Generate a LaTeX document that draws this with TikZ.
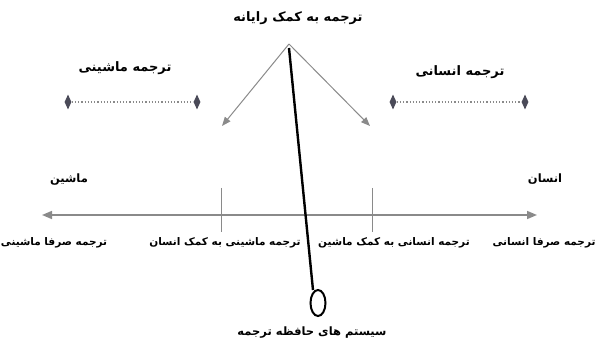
\documentclass[tikz,border=0pt]{standalone}
\usepackage{fontspec}
\usetikzlibrary{shapes.geometric,arrows.meta}
\newfontfamily\fa[Script=Arabic]{DejaVu Sans}
\TeXXeTstate=1
\definecolor{gline}{HTML}{8A8A8A}
\definecolor{dmd}{HTML}{4A4A58}
\tikzset{
  lab/.style={font=\fa\bfseries\fontsize{10.5}{12}\selectfont, inner sep=0pt},
  biglab/.style={font=\fa\bfseries\fontsize{13}{15}\selectfont, inner sep=0pt},
  midlab/.style={font=\fa\bfseries\fontsize{11.5}{14}\selectfont, inner sep=0pt},
  dmdnode/.style={diamond, fill=dmd, minimum width=7pt, minimum height=15pt, inner sep=0pt},
  dotline/.style={draw=gline, line width=1.2pt, dotted},
  greyarrow/.style={draw=gline, line width=1pt, -{Triangle[length=9pt,width=7pt]}},
  axis/.style={draw=gline, line width=1.6pt, {Triangle[length=10pt,width=8pt]}-{Triangle[length=10pt,width=8pt]}},
  tick/.style={draw=gline, line width=0.6pt},
  thick line/.style={draw=black, line width=2.4pt}
}
\begin{document}
\begin{tikzpicture}[x=1pt,y=-1pt]
\useasboundingbox (0,0) rectangle (603,347);
% titles
\node[biglab] (top) at (298,18) {\beginR ترجمه به کمک رایانه\endR};
\node[biglab] (mt) at (125,68) {\beginR ترجمه ماشینی\endR};
\node[biglab] (ht) at (460,72) {\beginR ترجمه انسانی\endR};
\node[midlab] (mach) at (69,180) {\beginR ماشین\endR};
\node[midlab] (hum) at (545,179) {\beginR انسان\endR};
% bottom labels
\node[lab] (b1) at (54,243) {\beginR ترجمه صرفا ماشینی\endR};
\node[lab] (b2) at (225,243) {\beginR ترجمه ماشینی به کمک انسان\endR};
\node[lab] (b3) at (394,243) {\beginR ترجمه انسانی به کمک ماشین\endR};
\node[lab] (b4) at (544,243) {\beginR ترجمه صرفا انسانی\endR};
\node[midlab] (tm) at (312,333) {\beginR سیستم های حافظه ترجمه\endR};
% diamonds
\node[dmdnode] (d1) at (68,102) {};
\node[dmdnode] (d2) at (197,102) {};
\node[dmdnode] (d3) at (393,102) {};
\node[dmdnode] (d4) at (525,102) {};
\draw[dotline] (d1) -- (d2);
\draw[dotline] (d3) -- (d4);
% arrows from apex
\coordinate (apex) at (289,44);
\coordinate (la) at (222,126);
\coordinate (ra) at (370,126);
\draw[greyarrow] (apex) -- (la);
\draw[greyarrow] (apex) -- (ra);
% axis
\coordinate (axl) at (42,215);
\coordinate (axr) at (537,215);
\draw[axis] (axl) -- (axr);
\coordinate (t1a) at (221,188);
\coordinate (t1b) at (221,232);
\coordinate (t2a) at (372,188);
\coordinate (t2b) at (372,232);
\draw[tick] (t1a) -- (t1b);
\draw[tick] (t2a) -- (t2b);
% thick line with loop
\coordinate (ts) at (289,48);
\coordinate (te) at (313,290);
\draw[thick line] (ts) -- (te);
\node[draw=black, line width=2pt, ellipse, minimum width=15pt, minimum height=26pt, inner sep=0pt] (loop) at (318,303) {};
\end{tikzpicture}
\end{document}
